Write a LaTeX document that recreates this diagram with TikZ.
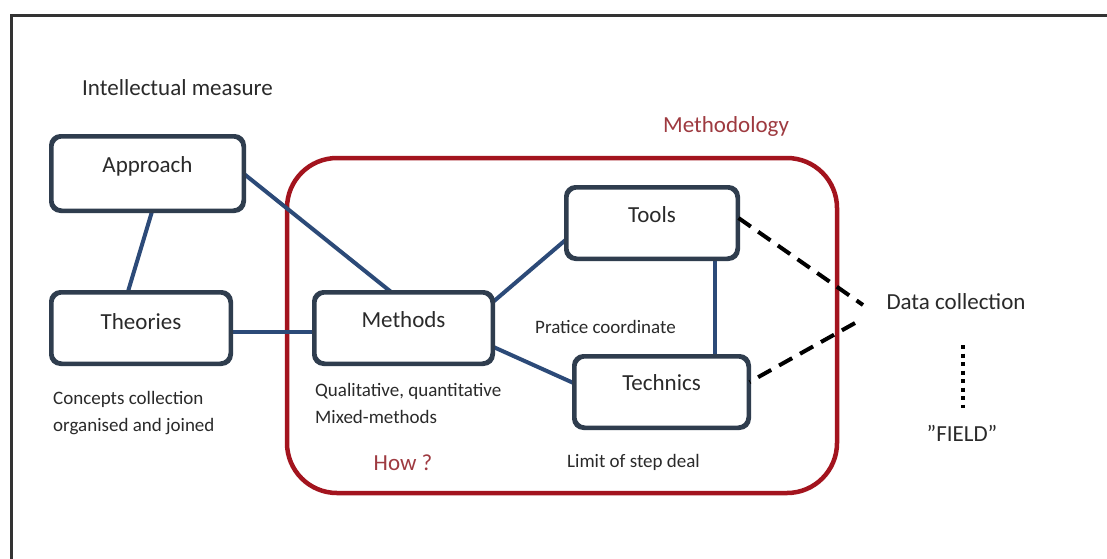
\documentclass[tikz,border=0pt]{standalone}
\usepackage{fontspec}
\setmainfont{Carlito}
\usetikzlibrary{calc}
\definecolor{linkblue}{HTML}{2C4A78}
\definecolor{boxedge}{HTML}{2F3D4E}
\definecolor{frame}{HTML}{333333}
\definecolor{methred}{HTML}{A3141E}
\definecolor{labelred}{HTML}{9E3A40}
\definecolor{ink}{HTML}{2A2A2A}
\tikzset{
  box/.style={draw=boxedge, line width=3pt, rounded corners=10pt, fill=white, inner sep=0pt},
  bigtext/.style={font=\fontsize{23}{27}\selectfont, text=ink, inner sep=0pt},
  smalltext/.style={font=\fontsize{19}{27}\selectfont, text=ink, inner sep=0pt, align=left},
  link/.style={draw=linkblue, line width=4pt},
  datalink/.style={draw=black, line width=4pt, dash pattern=on 15pt off 9pt},
  fieldlink/.style={draw=black, line width=4pt, dash pattern=on 4pt off 4.5pt},
}
\begin{document}
\begin{tikzpicture}[x=1pt,y=-1pt]
  \useasboundingbox (0,0) rectangle (1107,558);
  \fill[white] (0,0) rectangle (1107,558);
  \begin{scope}
    \clip (0,0) rectangle (1107,558);
    % outer frame, running off the right and bottom edges
    \draw[frame, line width=3pt] (11,15) rectangle (1130,580);
  \end{scope}

  % the methodology enclosure
  \draw[methred, line width=4.5pt, rounded corners=50pt] (287,158) rectangle (837,493);
  \node[font=\fontsize{23}{27}\selectfont, text=labelred, inner sep=0pt, anchor=west] (methodology) at (663,126) {Methodology};

  % boxes
  \node[box, minimum width=191pt, minimum height=73pt] (approach) at (147.5,173.5) {};
  \node[box, minimum width=178pt, minimum height=70pt] (theories) at (141,328) {};
  \node[box, minimum width=177pt, minimum height=70pt] (methods) at (403.5,328) {};
  \node[box, minimum width=170pt, minimum height=70pt] (tools) at (652,223) {};
  \node[box, minimum width=173pt, minimum height=70pt] (technics) at (661.5,392) {};

  \node[bigtext] (approachtext) at ([yshift=7pt]approach.center) {Approach};
  \node[bigtext] (theoriestext) at ([yshift=6pt]theories.center) {Theories};
  \node[bigtext] (methodstext) at ([yshift=8pt]methods.center) {Methods};
  \node[bigtext] (toolstext) at ([yshift=8pt]tools.center) {Tools};
  \node[bigtext] (technicstext) at ([yshift=9pt]technics.center) {Technics};

  % connectors between the boxes
  \draw[link] ([xshift=-1pt]approach.east) -- ([xshift=-13pt]methods.north);
  \draw[link] ([xshift=4.5pt]approach.south) -- ([xshift=-13pt]theories.north);
  \draw[link] ([yshift=-4pt]theories.east) -- ([yshift=-4pt]methods.west);
  \draw[link] ([yshift=-10pt]methods.north east) -- ([yshift=-17pt]tools.west);
  \draw[link] ([yshift=-19pt]methods.east) -- ([yshift=9pt]technics.west);
  \draw[link] ([xshift=63pt]tools.south) -- ([xshift=63pt]tools.south |- technics.north);

  % redraw box edges over the connector ends
  \foreach \b in {approach,theories,methods,tools,technics}
    \draw[boxedge, line width=3pt, rounded corners=10pt] (\b.north west) rectangle (\b.south east);

  % data collection side
  \node[bigtext] (data) at (956,302) {Data collection};
  \coordinate (dtop) at (863,305);
  \coordinate (dbot) at (855,323);
  \draw[datalink] ([yshift=5pt]tools.east) -- (dtop);
  \draw[datalink] (dbot) -- ([yshift=10pt]technics.east);
  \node[bigtext] (field) at (962,433) {''FIELD''};
  \coordinate (ftop) at (963,345);
  \coordinate (fbot) at (963,408);
  \draw[fieldlink] (ftop) -- (fbot);

  % free labels
  \node[bigtext, anchor=west] (intellect) at (82,88) {Intellectual measure};
  \node[smalltext, anchor=north west] (concepts) at (53,391) {Concepts collection\\organised and joined};
  \node[smalltext, anchor=north west] (qualit) at (315,383) {Qualitative, quantitative\\Mixed-methods};
  \node[smalltext, anchor=west] (pratice) at (535,327) {Pratice coordinate};
  \node[smalltext, anchor=west] (limit) at (567,462) {Limit of step deal};
  \node[font=\fontsize{23}{27}\selectfont, text=labelred, inner sep=0pt] (how) at (403,463) {How ?};
\end{tikzpicture}
\end{document}
